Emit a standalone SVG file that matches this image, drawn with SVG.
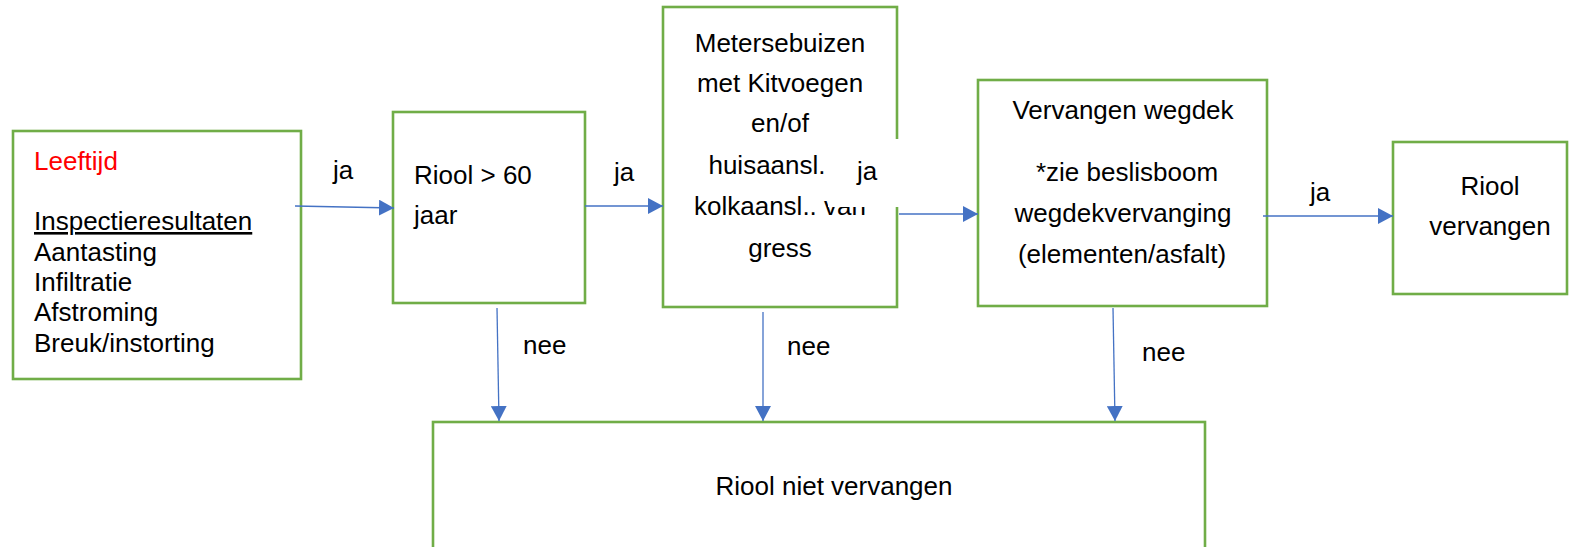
<svg xmlns="http://www.w3.org/2000/svg" width="1569" height="547" viewBox="0 0 1569 547">
<style>
.box{fill:#fff;stroke:#70AD47;stroke-width:2.6}
.t{font-family:"Liberation Sans",Arial,sans-serif;font-size:26px;fill:#000}
.c{text-anchor:middle}
.conn{stroke:#4472C4;stroke-width:1.3;fill:none}
</style>
<defs>
<marker id="ah" markerUnits="userSpaceOnUse" markerWidth="15" markerHeight="16" refX="15" refY="8" orient="auto">
<path d="M0,0 L15,8 L0,16 z" fill="#4472C4"/>
</marker>
</defs>
<rect width="1569" height="547" fill="#fff"/>
<g id="n-leeftijd">
<rect class="box" x="13" y="131" width="288" height="248"/>
<text class="t" x="34" y="170" fill="#FF0000" style="fill:#FF0000">Leeftijd</text>
<text class="t" x="34" y="230" text-decoration="underline">Inspectieresultaten</text>
<text class="t" x="34" y="261">Aantasting</text>
<text class="t" x="34" y="291">Infiltratie</text>
<text class="t" x="34" y="321">Afstroming</text>
<text class="t" x="34" y="352">Breuk/instorting</text>
</g>
<g id="n-riool60">
<rect class="box" x="393" y="112" width="192" height="191"/>
<text class="t" x="414" y="184">Riool &gt; 60</text>
<text class="t" x="414" y="224">jaar</text>
</g>
<g id="n-metersebuizen">
<rect class="box" x="663" y="7" width="234" height="300"/>
<text class="t c" x="780" y="52">Metersebuizen</text>
<text class="t c" x="780" y="92">met Kitvoegen</text>
<text class="t c" x="780" y="132">en/of</text>
<text class="t c" x="767" y="174">huisaansl.</text>
<text class="t c" x="780" y="215">kolkaansl.. van</text>
<text class="t c" x="780" y="257">gress</text>
</g>
<g id="n-wegdek">
<rect class="box" x="978" y="80" width="289" height="226"/>
<text class="t c" x="1123" y="119">Vervangen wegdek</text>
<text class="t c" x="1127" y="181">*zie beslisboom</text>
<text class="t c" x="1123" y="222">wegdekvervanging</text>
<text class="t c" x="1122" y="263">(elementen/asfalt)</text>
</g>
<g id="n-vervangen">
<rect class="box" x="1393" y="142" width="174" height="152"/>
<text class="t c" x="1490" y="195">Riool</text>
<text class="t c" x="1490" y="235">vervangen</text>
</g>
<g id="n-nietvervangen">
<rect class="box" x="433" y="422" width="772" height="140"/>
<text class="t c" x="834" y="495">Riool niet vervangen</text>
</g>
<g id="connectors">
<line class="conn" x1="295" y1="206" x2="394" y2="208" marker-end="url(#ah)"/>
<text class="t" x="333" y="179">ja</text>
<line class="conn" x1="585" y1="206" x2="663" y2="206" marker-end="url(#ah)"/>
<text class="t" x="614" y="181">ja</text>
<rect x="828" y="139" width="72" height="68" fill="#fff"/>
<text class="t" x="857" y="180">ja</text>
<line class="conn" x1="899" y1="214" x2="978" y2="214" marker-end="url(#ah)"/>
<line class="conn" x1="1263" y1="216" x2="1393" y2="216" marker-end="url(#ah)"/>
<text class="t" x="1310" y="201">ja</text>
<line class="conn" x1="497" y1="308" x2="499" y2="421" marker-end="url(#ah)"/>
<text class="t" x="523" y="354">nee</text>
<line class="conn" x1="763" y1="312" x2="763" y2="421" marker-end="url(#ah)"/>
<text class="t" x="787" y="355">nee</text>
<line class="conn" x1="1113" y1="308" x2="1115" y2="421" marker-end="url(#ah)"/>
<text class="t" x="1142" y="361">nee</text>
</g>
</svg>
